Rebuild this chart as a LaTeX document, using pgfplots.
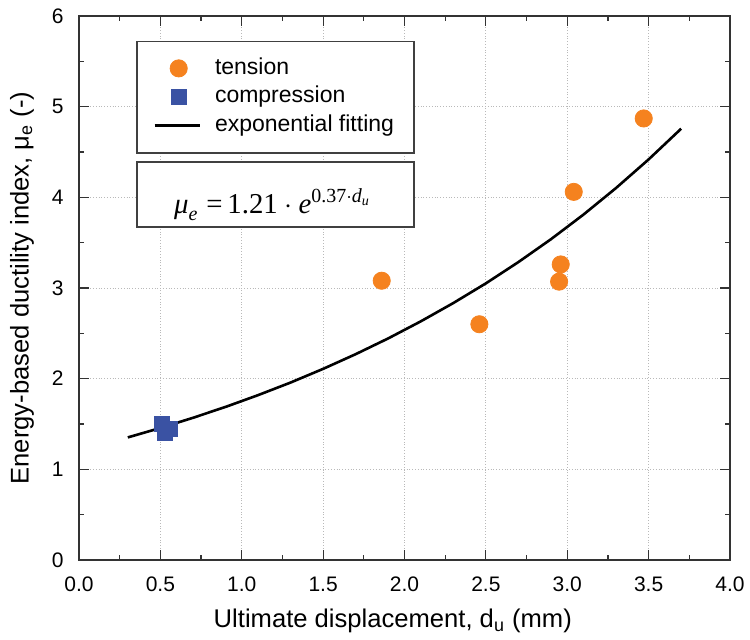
\documentclass[border=0pt]{standalone}
\usepackage{fontspec}
\setmainfont{Liberation Sans}
\newfontfamily\lserif{Liberation Serif}
\usepackage{amsmath}
\usepackage{pgfplots}
\pgfplotsset{compat=1.18}
\definecolor{orangeC}{HTML}{F5821F}
\definecolor{blueC}{HTML}{3A52A3}
\pgfplotsset{
  markimg/.style={legend image code/.code={\draw[##1] plot coordinates {(12pt,0pt)};}},
  lineimg/.style={legend image code/.code={\draw[##1] (0pt,0pt) -- (22.5pt,0pt);}}
}
\begin{document}
\begin{tikzpicture}
\begin{axis}[
  scale only axis,
  width=325.5pt, height=272pt,
  xmin=0, xmax=4, ymin=0, ymax=6,
  xtick={0,0.5,...,4}, ytick={0,1,...,6},
  minor x tick num=1, minor y tick num=1,
  tick align=inside,
  major tick length=5pt, minor tick length=2.5pt,
  every tick/.style={black!80, line width=0.6pt},
  axis line style={black!80, line width=0.6pt},
  grid=major,
  major grid style={densely dotted, gray!55, line width=0.4pt},
  /pgf/number format/assume math mode=true,
  tick label style={font=\fontsize{10.5pt}{12pt}\selectfont},
  xticklabel style={/pgf/number format/.cd, fixed, fixed zerofill, precision=1, /tikz/.cd, anchor=base, yshift=-16pt},
  yticklabel style={anchor=east, inner sep=0pt, xshift=-7.5pt},
  xlabel={Ultimate displacement, d$_{\text{u}}$ (mm)},
  ylabel={Energy-based ductility index, μ$_{\text{e}}$ (-)},
  every axis x label/.style={at={(axis description cs:0.482,0)}, anchor=base, yshift=-34pt,
     font=\fontsize{12.8pt}{15pt}\selectfont},
  every axis y label/.style={at={(axis description cs:-0.0876,0.5)}, rotate=90, anchor=center,
     font=\fontsize{12.8pt}{15pt}\selectfont},
  legend style={draw=none, fill=none, at={(axis cs:0.4547,5.559)}, anchor=north west,
    inner sep=0pt, column sep=7pt, row sep=2.25pt,
    font=\fontsize{11.5pt}{14pt}\selectfont,
    nodes={inner xsep=0pt, inner ysep=0pt, text height=9pt, text depth=3pt}},
  legend cell align=left,
]
\draw[black!75, line width=0.6pt, fill=white] (axis cs:0.356,5.72) rectangle (axis cs:2.058,4.489);
\draw[black!75, line width=0.6pt, fill=white] (axis cs:0.356,4.390) rectangle (axis cs:2.058,3.673);
\addplot[only marks, mark=*, mark size=4.3pt, mark options={draw=orangeC, fill=orangeC}, markimg]
  coordinates {(1.86,3.08) (2.46,2.60) (2.95,3.07) (2.96,3.26) (3.04,4.06) (3.47,4.87)};
\addlegendentry{tension}
\addplot[only marks, mark=square*, mark size=3.8pt, mark options={draw=blueC, fill=blueC}, markimg]
  coordinates {(0.51,1.50) (0.56,1.45) (0.53,1.40)};
\addlegendentry{compression}
\addplot[black, line width=1.3pt, no marks, lineimg]
  coordinates {(0.3,1.352) (0.5,1.456) (0.7,1.568) (0.9,1.688) (1.1,1.818) (1.3,1.957)
   (1.5,2.108) (1.7,2.270) (1.9,2.444) (2.1,2.632) (2.3,2.834) (2.5,3.051) (2.7,3.286)
   (2.9,3.538) (3.1,3.810) (3.3,4.103) (3.5,4.418) (3.7,4.757)};
\addlegendentry{exponential fitting}
\node[anchor=base, inner sep=0pt] at (axis cs:1.189,3.827) {\fontsize{14.4pt}{17pt}\selectfont
  $\text{\lserif\itshape μ}_{\text{\lserif\itshape e}}\;\text{\lserif =}\,\text{\lserif 1.21}\cdot\text{\lserif\itshape e}^{\text{\lserif 0.37}\cdot\text{\lserif\itshape d}_{\text{\lserif\itshape u}}}$};
\end{axis}
\pgfresetboundingbox
\path[use as bounding box] (current axis.south west) ++(-39.5pt,-40pt) rectangle ++(375pt,320pt);
\end{tikzpicture}
\end{document}
